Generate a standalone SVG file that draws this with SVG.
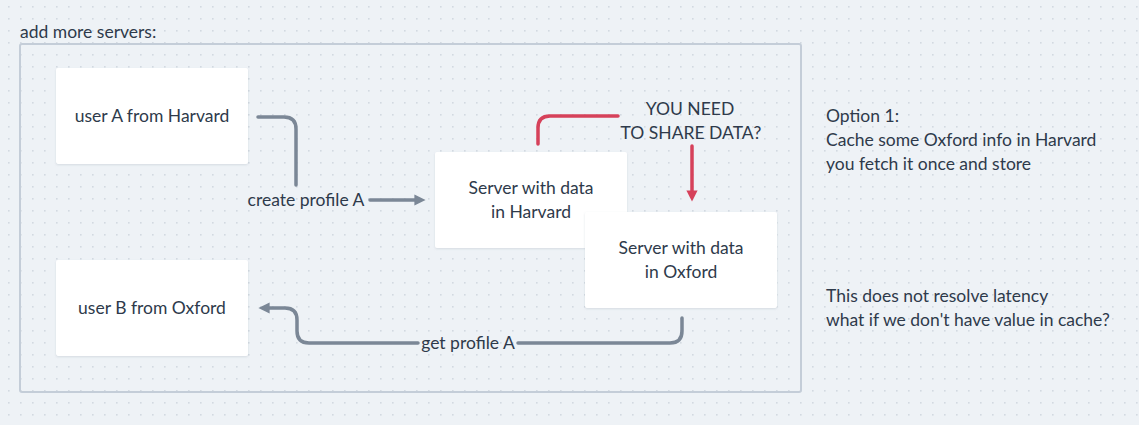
<svg xmlns="http://www.w3.org/2000/svg" width="1139" height="425" viewBox="0 0 1139 425">
  <defs>
    <pattern id="dots" x="8" y="6" width="12" height="12" patternUnits="userSpaceOnUse">
      <rect x="0" y="0" width="1.6" height="1.6" fill="#d3d9e1"/>
    </pattern>
    <filter id="sh" x="-10%" y="-10%" width="120%" height="130%">
      <feDropShadow dx="0" dy="1" stdDeviation="1.2" flood-color="#8a96a6" flood-opacity="0.25"/>
    </filter>
    <marker id="ag" viewBox="0 0 10 10" refX="5" refY="5" markerWidth="3.4" markerHeight="3.2" orient="auto">
      <path d="M0,0 L10,5 L0,10 z" fill="#7b8796"/>
    </marker>
    <marker id="ar" viewBox="0 0 10 10" refX="5" refY="5" markerWidth="3.2" markerHeight="3.4" orient="auto">
      <path d="M0,0 L10,5 L0,10 z" fill="#d6415a"/>
    </marker>
  </defs>
  <style>
    text { font-family: "Lato", "Noto Sans", "Liberation Sans", sans-serif; font-size: 17.5px; fill: #2e3a4b; }
    .box { fill: #ffffff; filter: url(#sh); }
    .c { text-anchor: middle; }
    .g { fill: none; stroke: #7b8796; stroke-width: 3.5; stroke-linecap: round; }
    .r { fill: none; stroke: #d6415a; stroke-width: 3.5; stroke-linecap: round; }
  </style>
  <rect width="1139" height="425" fill="#eef2f6"/>
  <rect width="1139" height="425" fill="url(#dots)"/>

  <g id="frame">
    <text x="20" y="38">add more servers:</text>
    <rect x="20" y="44" width="781" height="348" rx="2" fill="none" stroke="#c4cdd8" stroke-width="2"/>
  </g>

  <g id="connectors">
    <path class="g" d="M258,117 L284,117 Q296,117 296,129 L296,185"/>
    <text class="c" x="306" y="206">create profile A</text>
    <path class="g" d="M370,200 L420,200" marker-end="url(#ag)"/>
    <path class="r" d="M538,144 L538,128 Q538,116 550,116 L618,116"/>
    <path class="r" d="M692,146 L692,196" marker-end="url(#ar)"/>
    <path class="g" d="M682,318 L682,331 Q682,343 670,343 L518,343"/>
    <text class="c" x="468" y="349">get profile A</text>
    <path class="g" d="M418,343 L309,343 Q297,343 297,331 L297,320 Q297,308 285,308 L264,308" marker-end="url(#ag)"/>
  </g>

  <g id="userA">
    <rect class="box" x="56" y="68" width="192" height="96" rx="2"/>
    <text class="c" x="152" y="122">user A from Harvard</text>
  </g>
  <g id="userB">
    <rect class="box" x="56" y="260" width="192" height="96" rx="2"/>
    <text class="c" x="152" y="314">user B from Oxford</text>
  </g>
  <g id="serverHarvard">
    <rect class="box" x="435" y="152" width="192" height="96" rx="2"/>
    <text class="c" x="531" y="194">Server with data</text>
    <text class="c" x="531" y="218">in Harvard</text>
  </g>
  <g id="serverOxford">
    <rect class="box" x="585" y="212" width="192" height="96" rx="2"/>
    <text class="c" x="681" y="254">Server with data</text>
    <text class="c" x="681" y="278">in Oxford</text>
  </g>
  <g id="question">
    <text class="c" x="690" y="115">YOU NEED</text>
    <text class="c" x="691" y="139">TO SHARE DATA?</text>
  </g>
  <g id="notes">
    <text x="826" y="122">Option 1:</text>
    <text x="826" y="146">Cache some Oxford info in Harvard</text>
    <text x="826" y="170">you fetch it once and store</text>
    <text x="826" y="302">This does not resolve latency</text>
    <text x="826" y="326">what if we don't have value in cache?</text>
  </g>
</svg>
